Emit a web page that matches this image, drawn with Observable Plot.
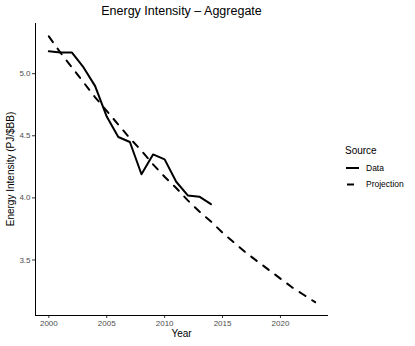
<!DOCTYPE html>
<html><head><meta charset="utf-8">
<script src="https://cdn.jsdelivr.net/npm/d3@7"></script>
<script src="https://cdn.jsdelivr.net/npm/@observablehq/plot@0.6"></script>
<style>body{margin:0;background:#fff}svg{display:block}</style>
</head><body><div id="chart"></div>
<script>
const dataYears = [2000,2001,2002,2003,2004,2005,2006,2007,2008,2009,2010,2011,2012,2013,2014];
const dataValues = [5.18,5.17,5.17,5.05,4.90,4.655,4.49,4.45,4.19,4.35,4.31,4.13,4.02,4.01,3.95];
const projYears = [2000,2001,2002,2003,2004,2005,2006,2007,2008,2009,2010,2011,2012,2013,2014,2015,2016,2017,2018,2019,2020,2021,2022,2023];
const projValues = [5.30,5.17,5.05,4.93,4.81,4.70,4.59,4.48,4.38,4.27,4.17,4.08,3.98,3.89,3.81,3.72,3.64,3.56,3.49,3.42,3.35,3.28,3.22,3.16];
const xTicks = [2000,2005,2010,2015,2020];
const yTicks = [3.5,4.0,4.5,5.0];
const title = "Energy Intensity – Aggregate";
const xLabel = "Year";
const yLabel = "Energy Intensity (PJ/$BB)";
const legendTitle = "Source";
const seriesNames = ["Data","Projection"];

const rows = [
  ...dataYears.map((y,i)=>({year:y, value:dataValues[i], source:seriesNames[0]})),
  ...projYears.map((y,i)=>({year:y, value:projValues[i], source:seriesNames[1]}))
];
const xDom = [1998.85, 2024.15];
const yDom = [3.053, 5.404];

const plot = Plot.plot({
  width: 415, height: 346,
  marginLeft: 35, marginRight: 87, marginTop: 23, marginBottom: 31,
  style: {fontFamily: "'Liberation Sans', Arial, sans-serif", background: "#fff"},
  x: {domain: xDom, ticks: xTicks, tickFormat: d => String(d), label: null},
  y: {domain: yDom, ticks: yTicks, tickFormat: d => d.toFixed(1), label: null},
  marks: [
    Plot.axisX({ticks: xTicks, tickFormat: d=>String(d), tickSize: 3, tickPadding: 2, stroke: "#333", color: "#4d4d4d", fontSize: 8, label: null}),
    Plot.axisY({ticks: yTicks, tickFormat: d=>d.toFixed(1), tickSize: 3, tickPadding: 2, stroke: "#333", color: "#4d4d4d", fontSize: 8, label: null}),
    Plot.ruleX([xDom[0]], {stroke: "#000", strokeWidth: 1}),
    Plot.ruleY([yDom[0]], {stroke: "#000", strokeWidth: 1}),
    Plot.line(rows.filter(d=>d.source===seriesNames[1]), {x:"year", y:"value", stroke:"#000", strokeWidth:2, strokeDasharray:"7,8"}),
    Plot.line(rows.filter(d=>d.source===seriesNames[0]), {x:"year", y:"value", stroke:"#000", strokeWidth:2})
  ]
});
const svg = d3.select(plot);
const ff = "'Liberation Sans', Arial, sans-serif";
svg.append("text").attr("x",181.5).attr("y",15).attr("text-anchor","middle").attr("font-size",12.5).attr("font-family",ff).attr("fill","#000").text(title);
svg.append("text").attr("x",181.5).attr("y",337).attr("text-anchor","middle").attr("font-size",10).attr("font-family",ff).attr("fill","#000").text(xLabel);
svg.append("text").attr("transform","translate(14,169) rotate(-90)").attr("text-anchor","middle").attr("font-size",10).attr("font-family",ff).attr("fill","#000").text(yLabel);
svg.append("text").attr("x",345).attr("y",154).attr("text-anchor","start").attr("font-size",10).attr("font-family",ff).attr("fill","#000").text(legendTitle);
const ly = [168,184.5];
seriesNames.forEach((n,i)=>{
  svg.append("line").attr("x1",346).attr("x2",359).attr("y1",ly[i]).attr("y2",ly[i]).attr("stroke","#000").attr("stroke-width",2).attr("stroke-dasharray", i? "7,8" : null).attr("stroke-dashoffset", i? -1 : null);
  svg.append("text").attr("x",366).attr("y",ly[i]).attr("dy","0.35em").attr("text-anchor","start").attr("font-size",8.5).attr("font-family",ff).attr("fill","#000").text(n);
});
document.getElementById("chart").appendChild(plot);
</script></body></html>
